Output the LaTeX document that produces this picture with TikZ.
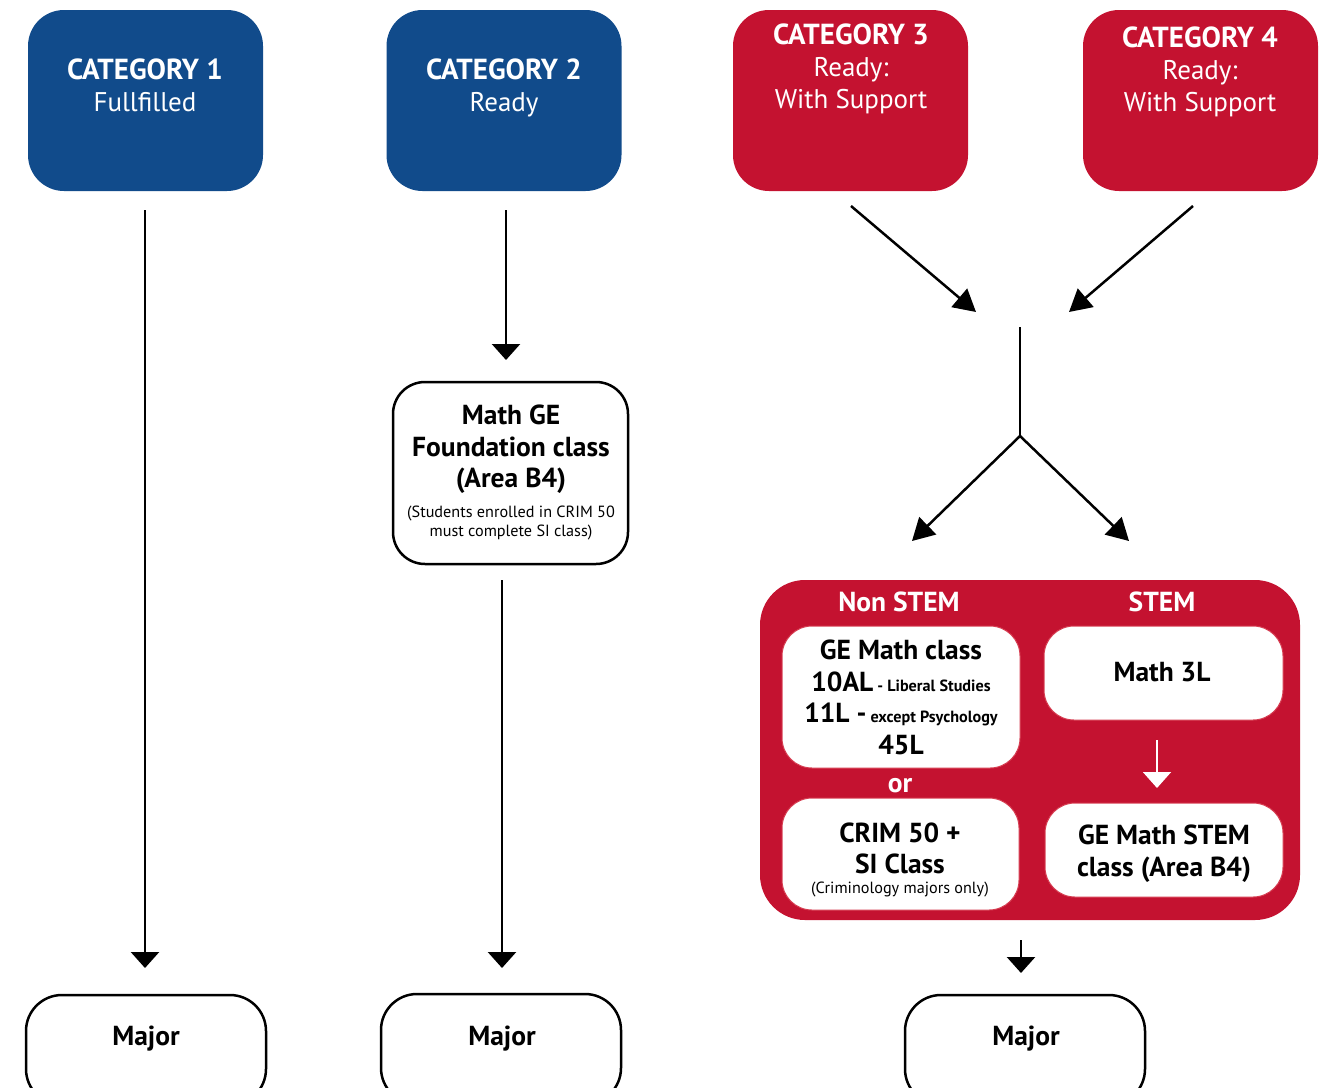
\documentclass[tikz,border=0pt]{standalone}
\usepackage{fontspec}
\setmainfont{PT Sans}
\usetikzlibrary{arrows.meta}
\definecolor{cblue}{RGB}{17,75,139}
\definecolor{cred}{RGB}{196,18,48}
\definecolor{cedge}{RGB}{214,60,80}
\newcommand\catf{\fontsize{29}{32}\selectfont}
\newcommand\subf{\fontsize{27}{32}\selectfont}
\newcommand\midf{\fontsize{27.5}{32}\selectfont}
\newcommand\smlf{\fontsize{16.2}{19}\selectfont}
\begin{document}
\begin{tikzpicture}[x=1pt,y=-1pt,
  catbox/.style={rounded corners=36pt, fill=#1, minimum width=235pt, minimum height=181pt, inner sep=0pt},
  outbox/.style={rounded corners=32pt, draw=black, line width=2.5pt, fill=white, inner sep=0pt},
  inbox/.style={rounded corners=30pt, draw=cedge, line width=1pt, fill=white, inner sep=0pt},
  lbl/.style={anchor=base, inner sep=0pt},
  wlbl/.style={anchor=base, inner sep=0pt, text=white},
  conn/.style={line width=2.5pt, -{Triangle[width=28pt,length=16pt]}},
  diag/.style={line width=2.5pt, -{Triangle[width=24pt,length=22pt]}},
  plain/.style={line width=2.5pt}
]
\useasboundingbox (0,0) rectangle (1324,1087);
\clip (0,0) rectangle (1324,1087);

% top category boxes
\node[catbox=cblue] (c1) at (145.5,100.5) {};
\node[catbox=cblue] (c2) at (504,100.5) {};
\node[catbox=cred] (c3) at (850.5,100.5) {};
\node[catbox=cred] (c4) at (1200.5,100.5) {};

\node[wlbl] (c1a) at (145,79) {\catf\bfseries CATEGORY 1};
\node[wlbl] (c1b) at (145,111) {\subf Fullfilled};
\node[wlbl] (c2a) at (504,79) {\catf\bfseries CATEGORY 2};
\node[wlbl] (c2b) at (504,111) {\subf Ready};
\node[wlbl] (c3a) at (851,44) {\catf\bfseries CATEGORY 3};
\node[wlbl] (c3b) at (851,76) {\subf Ready:};
\node[wlbl] (c3c) at (851,108) {\subf With Support};
\node[wlbl] (c4a) at (1200,47) {\catf\bfseries CATEGORY 4};
\node[wlbl] (c4b) at (1200,79) {\subf Ready:};
\node[wlbl] (c4c) at (1200,111) {\subf With Support};

% Math GE foundation box
\node[outbox, minimum width=235pt, minimum height=182pt] (mge) at (510.5,473) {};
\node[lbl] (mge1) at (511,424) {\midf\bfseries Math GE};
\node[lbl] (mge2) at (511,456) {\midf\bfseries Foundation class};
\node[lbl] (mge3) at (511,487) {\midf\bfseries (Area B4)};
\node[lbl] (mge4) at (511,517) {\smlf (Students enrolled in CRIM 50};
\node[lbl] (mge5) at (511,536) {\smlf must complete SI class)};

% red panel
\node[rounded corners=45pt, fill=cred, minimum width=540pt, minimum height=340pt, inner sep=0pt] (panel) at (1030,750) {};
\node[wlbl] (hns) at (899,611) {\midf\bfseries Non STEM};
\node[wlbl] (hst) at (1162,611) {\midf\bfseries STEM};

\node[inbox, minimum width=238pt, minimum height=142pt] (ge) at (901,697) {};
\node[lbl] (ge1) at (901,659) {\midf\bfseries GE Math class};
\node[lbl] (ge2) at (901,691) {\midf\bfseries 10AL\smlf\ - Liberal Studies};
\node[lbl] (ge3) at (901,722) {\midf\bfseries 11L -\smlf\ except Psychology};
\node[lbl] (ge4) at (901,754) {\midf\bfseries 45L};

\node[wlbl] (orl) at (900,792) {\midf\bfseries or};

\node[inbox, minimum width=237pt, minimum height=112pt] (crim) at (900.5,854) {};
\node[lbl] (cr1) at (900,842) {\midf\bfseries CRIM 50 +};
\node[lbl] (cr2) at (900,873) {\midf\bfseries SI Class};
\node[lbl] (cr3) at (900,893) {\smlf (Criminology majors only)};

\node[inbox, minimum width=239pt, minimum height=94pt] (m3l) at (1163.5,673) {};
\node[lbl] (m3t) at (1162,681) {\midf\bfseries Math 3L};

\node[inbox, minimum width=238pt, minimum height=94pt] (stem) at (1164,850) {};
\node[lbl] (st1) at (1164,844) {\midf\bfseries GE Math STEM};
\node[lbl] (st2) at (1164,876) {\midf\bfseries class (Area B4)};

% Major boxes
\node[outbox, rounded corners=36pt, minimum width=240pt, minimum height=110pt] (mj1) at (146,1050) {};
\node[outbox, rounded corners=36pt, minimum width=240pt, minimum height=110pt] (mj2) at (501,1049) {};
\node[outbox, rounded corners=36pt, minimum width=240pt, minimum height=110pt] (mj3) at (1025,1050) {};
\node[lbl] (mj1t) at (146,1045) {\midf\bfseries Major};
\node[lbl] (mj2t) at (502,1045) {\midf\bfseries Major};
\node[lbl] (mj3t) at (1026,1045) {\midf\bfseries Major};

% connector end points
\coordinate (a1s) at (145,210);
\coordinate (a1e) at (145,968);
\coordinate (a2s) at (506,210);
\coordinate (a2e) at (506,360);
\coordinate (a3s) at (502,580);
\coordinate (a3e) at (502,968);
\coordinate (d3s) at (851,206);
\coordinate (d3e) at (976,312);
\coordinate (d4s) at (1193,206);
\coordinate (d4e) at (1069,312);
\coordinate (vs) at (1020,327);
\coordinate (vj) at (1020,436);
\coordinate (bl) at (912,541);
\coordinate (br) at (1129,541);
\coordinate (ws) at (1157,740);
\coordinate (we) at (1157,788);
\coordinate (ps) at (1021,940);
\coordinate (pe) at (1021,973);

\draw[conn] (a1s) -- (a1e);
\draw[conn] (a2s) -- (a2e);
\draw[conn] (a3s) -- (a3e);
\draw[diag] (d3s) -- (d3e);
\draw[diag] (d4s) -- (d4e);
\draw[plain] (vs) -- (vj);
\draw[diag] (vj) -- (bl);
\draw[diag] (vj) -- (br);
\draw[conn, white, line width=2pt] (ws) -- (we);
\draw[conn] (ps) -- (pe);
\end{tikzpicture}
\end{document}
